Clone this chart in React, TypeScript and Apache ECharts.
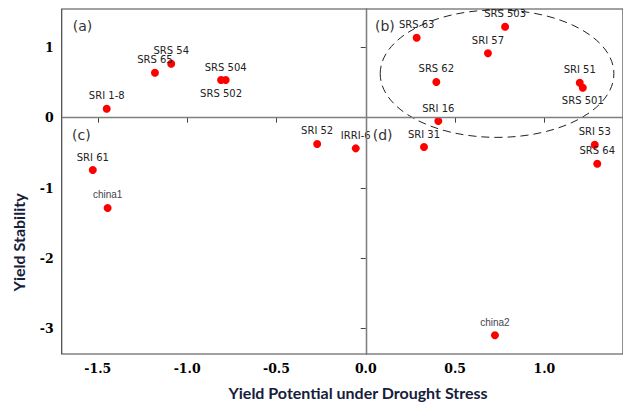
import React, { useEffect, useRef } from "react";
import * as echarts from "echarts";

const genotypes = [
  "SRI 1-8", "SRS 65", "SRS 54", "SRS 504", "SRS 502", "SRI 52", "IRRI-6", "SRI 61", "china1",
  "SRS 63", "SRS 503", "SRI 57", "SRS 62", "SRI 51", "SRS 501", "SRI 16", "SRI 31", "SRI 53", "SRS 64", "china2",
];
const yieldPotential = [
  -1.45, -1.18, -1.089, -0.784, -0.81, -0.272, -0.056, -1.528, -1.445,
  0.285, 0.78, 0.684, 0.395, 1.198, 1.215, 0.406, 0.326, 1.282, 1.296, 0.723,
];
const yieldStability = [
  0.128, 0.64, 0.768, 0.536, 0.536, -0.374, -0.436, -0.744, -1.284,
  1.138, 1.294, 0.916, 0.508, 0.498, 0.427, -0.047, -0.417, -0.384, -0.654, -3.095,
];
const labelsBelow = ["SRS 502", "SRS 501"];
const smallLabels = ["china1", "china2"];

const xTicks = [-1.5, -1.0, -0.5, 0.0, 0.5, 1.0];
const yTicks = [1, 0, -1, -2, -3];
const xRange = [-1.702, 1.44];
const yRange = [-3.361, 1.546];

// cluster ellipse: centre x, centre y, radius x, radius y (data units)
const clusterEllipse = [[0.735, 0.626, 0.654, 0.906]];

const quadrantLabels = ["(a)", "(b)", "(c)", "(d)"];
const xTitle = "Yield Potential under Drought Stress";
const yTitle = "Yield Stability";

const tickFont = "'DejaVu Serif', 'Liberation Serif', serif";

export default function App() {
  const ref = useRef<HTMLDivElement>(null);
  useEffect(() => {
    if (!ref.current) return;
    const chart = echarts.init(ref.current, null, { renderer: "svg" });
    const points = genotypes.map((name, i) => {
      const small = smallLabels.includes(name);
      return {
        name,
        value: [yieldPotential[i], yieldStability[i]],
        label: {
          position: labelsBelow.includes(name) ? "bottom" : "top",
          fontFamily: small ? "Liberation Sans" : "DejaVu Sans",
          fontSize: 10,
          color: small ? "#444450" : "#222",
          distance: 4,
        },
      };
    });
    const qPos = [
      [72.7, 25.5],
      [375, 25.5],
      [72, 135],
      [372.7, 135],
    ];
    chart.setOption({
      animation: false,
      backgroundColor: "#ffffff",
      grid: {
        left: 61.7,
        top: 9,
        right: -1,
        bottom: 50,
        show: true,
        borderColor: "#444",
        borderWidth: 1.2,
        containLabel: false,
      },
      xAxis: {
        type: "value",
        min: xRange[0],
        max: xRange[1],
        splitLine: { show: false },
        axisLine: { show: true, lineStyle: { color: "#444", width: 1.2 } },
        axisTick: { show: true, length: 5, customValues: xTicks, lineStyle: { color: "#444" } },
        axisLabel: {
          customValues: xTicks,
          formatter: (v: number) => v.toFixed(1),
          fontFamily: tickFont,
          fontWeight: "bold",
          fontSize: 12.5,
          color: "#000",
          margin: 8,
        },
      },
      yAxis: {
        type: "value",
        min: yRange[0],
        max: yRange[1],
        splitLine: { show: false },
        axisLine: { show: true, lineStyle: { color: "#444", width: 1.2 } },
        axisTick: { show: true, length: 5, customValues: yTicks, lineStyle: { color: "#444" } },
        axisLabel: {
          customValues: yTicks,
          formatter: (v: number) => String(Math.round(v)),
          fontFamily: tickFont,
          fontWeight: "bold",
          fontSize: 12.5,
          color: "#000",
          margin: 8,
        },
      },
      graphic: [
        ...quadrantLabels.map((t, i) => ({
          type: "text",
          x: qPos[i][0],
          y: qPos[i][1],
          style: {
            text: t,
            fontFamily: "DejaVu Sans",
            fontSize: 14,
            fill: "#333",
            textAlign: "left",
            textVerticalAlign: "middle",
          },
        })),
        {
          type: "text",
          x: 358,
          y: 392,
          style: {
            text: xTitle,
            fontFamily: "Lato",
            fontWeight: "bold",
            fontSize: 16,
            fill: "#16203a",
            textAlign: "center",
            textVerticalAlign: "middle",
          },
        },
        {
          type: "text",
          x: 18.3,
          y: 242.4,
          rotation: Math.PI / 2,
          style: {
            text: yTitle,
            fontFamily: "Lato",
            fontWeight: "bold",
            fontSize: 16,
            fill: "#16203a",
            textAlign: "center",
            textVerticalAlign: "middle",
          },
        },
      ],
      series: [
        {
          type: "custom",
          silent: true,
          clip: false,
          data: clusterEllipse,
          encode: { x: 0, y: 1 },
          renderItem: (params: any, api: any) => {
            const c = api.coord([api.value(0), api.value(1)]);
            const s = api.size([api.value(2), api.value(3)]);
            return {
              type: "ellipse",
              shape: { cx: c[0], cy: c[1], rx: s[0], ry: s[1] },
              style: { fill: "none", stroke: "#222", lineWidth: 1, lineDash: [8, 5] },
            };
          },
          z: 1,
        },
        {
          type: "scatter",
          symbol: "circle",
          symbolSize: 8,
          itemStyle: { color: "#ff0000", opacity: 1 },
          label: { show: true, formatter: "{b}" },
          data: points,
          z: 3,
          markLine: {
            silent: true,
            symbol: "none",
            label: { show: false },
            lineStyle: { color: "#7f7f7f", width: 1.3, type: "solid" },
            data: [{ xAxis: 0 }, { yAxis: 0 }],
          },
        },
      ],
    });
    return () => chart.dispose();
  }, []);
  return (
    <div
      ref={ref}
      style={{ position: "fixed", left: 0, top: 0, width: 623, height: 404, background: "#fff" }}
    />
  );
}
